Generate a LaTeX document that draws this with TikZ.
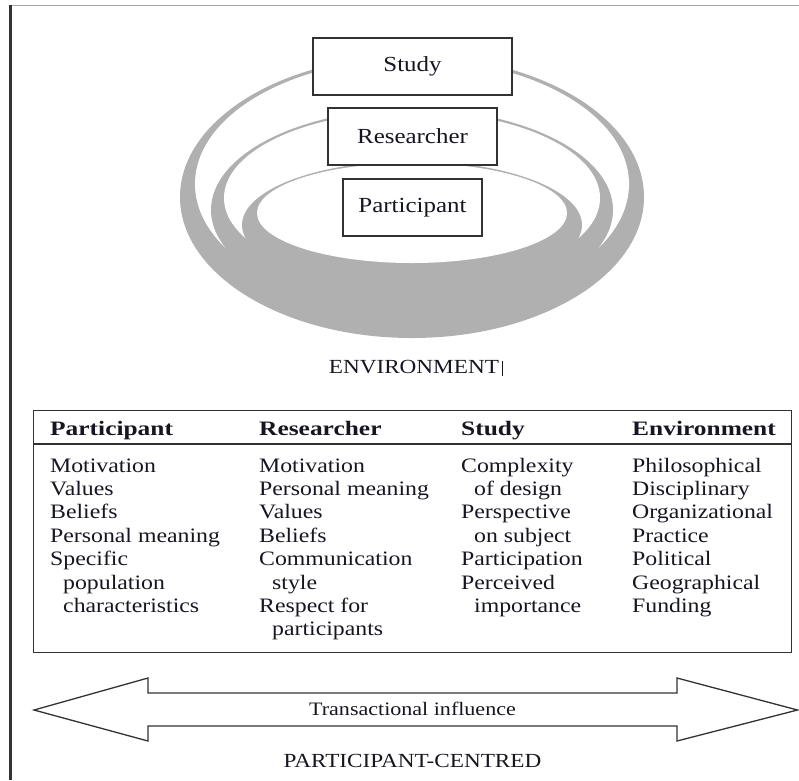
\documentclass[tikz,border=0pt]{standalone}
\usepackage{fontspec}
\setmainfont{Liberation Serif}[FakeStretch=1.16, BoldFeatures={FakeStretch=1.24}]
\definecolor{ringgray}{RGB}{176,176,176}
\definecolor{inkc}{RGB}{22,22,34}
\definecolor{linec}{RGB}{50,50,50}
\tikzset{
  every node/.style={inner sep=0pt, text=inkc},
  boxnode/.style={draw=linec, line width=1.3pt, fill=white, minimum height=57pt,
                  font=\fontsize{21.5}{24}\selectfont},
  tabtext/.style={anchor=base west, font=\fontsize{20.5}{23.4}\selectfont},
  headtext/.style={anchor=base west, font=\fontsize{20.5}{23.4}\selectfont\bfseries},
  captext/.style={anchor=base, font=\fontsize{20}{24}\selectfont},
  ringfill/.style={fill=ringgray},
  holefill/.style={fill=white}
}
\begin{document}
\begin{tikzpicture}[x=1pt,y=-1pt]
\useasboundingbox (0,0) rectangle (799,780);
% frame
\draw[line width=3pt, color=black!80] (10.5,5) -- (10.5,780);
\draw[line width=1pt, color=black!35] (12,5.3) -- (799,5.3);
% rings
\fill[ringfill] (412,197) ellipse [x radius=232, y radius=141];
\fill[holefill] (412,184) ellipse [x radius=217, y radius=125];
\fill[ringfill] (412,210) ellipse [x radius=201, y radius=101];
\fill[holefill] (412,198) ellipse [x radius=188, y radius=86.5];
\fill[ringfill] (412,225) ellipse [x radius=170, y radius=64];
\fill[holefill] (412,213) ellipse [x radius=155, y radius=50];
% boxes
\node[boxnode, minimum width=199pt] (study) at (412.5,66.5) {Study};
\node[boxnode, minimum width=169pt] (researcher) at (412.5,136.5) {Researcher};
\node[boxnode, minimum width=139pt] (participant) at (412.5,207.5) {Participant};
% environment label
\node[captext] (env) at (416,373) {ENVIRONMENT\hspace{3pt}\rule[-3pt]{1.2pt}{15pt}};
% table
\node[draw=linec, line width=1.3pt, minimum width=758pt, minimum height=242pt, anchor=north west] (tbl) at (33,410) {};
\coordinate (hl) at (33,444);
\coordinate (hr) at (791,444);
\draw[linec, line width=1.3pt] (hl) -- (hr);
\node[headtext] (h1) at (50,435) {Participant};
\node[headtext] (h2) at (259,435) {Researcher};
\node[headtext] (h3) at (461,435) {Study};
\node[headtext] (h4) at (632,435) {Environment};
\node[tabtext] (c1) at (50,472) {\begin{tabular}[t]{@{}l@{}}Motivation\\ Values\\ Beliefs\\ Personal meaning\\ Specific\\ \hspace{13pt}population\\ \hspace{13pt}characteristics\end{tabular}};
\node[tabtext] (c2) at (259,472) {\begin{tabular}[t]{@{}l@{}}Motivation\\ Personal meaning\\ Values\\ Beliefs\\ Communication\\ \hspace{13pt}style\\ Respect for\\ \hspace{13pt}participants\end{tabular}};
\node[tabtext] (c3) at (461,472) {\begin{tabular}[t]{@{}l@{}}Complexity\\ \hspace{13pt}of design\\ Perspective\\ \hspace{13pt}on subject\\ Participation\\ Perceived\\ \hspace{13pt}importance\end{tabular}};
\node[tabtext] (c4) at (632,472) {\begin{tabular}[t]{@{}l@{}}Philosophical\\ Disciplinary\\ Organizational\\ Practice\\ Political\\ Geographical\\ Funding\end{tabular}};
% double arrow
\draw[linec, line width=1.3pt, line join=miter, fill=white]
  (34,710) -- (148,678) -- (148,693) -- (677,693) -- (677,678) -- (797.5,710)
  -- (677,741) -- (677,726) -- (148,726) -- (148,741) -- cycle;
\node[captext, font=\fontsize{19}{22}\selectfont] (trans) at (412.5,715) {Transactional influence};
\node[captext] (pc) at (412.5,767) {PARTICIPANT-CENTRED};
\end{tikzpicture}
\end{document}
